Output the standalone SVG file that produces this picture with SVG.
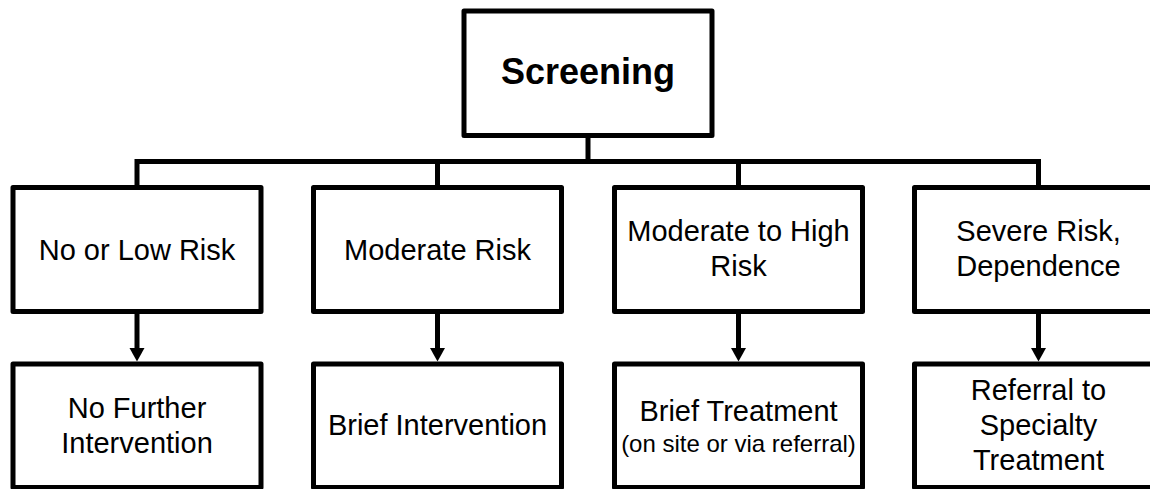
<svg xmlns="http://www.w3.org/2000/svg" width="1150" height="489" viewBox="0 0 1150 489">
<style>
.box{fill:#fff;stroke:#000;stroke-width:5;stroke-linejoin:round}
.con{fill:none;stroke:#000;stroke-width:5;stroke-linejoin:miter}
.t{font-family:"Liberation Sans",Arial,sans-serif;font-size:29px;text-anchor:middle;fill:#000}
.s{font-size:24px}
.b{font-weight:bold;font-size:36px}
</style>
<defs>
<marker id="ah" markerUnits="userSpaceOnUse" markerWidth="14" markerHeight="16" refX="3" refY="7.5" orient="auto" viewBox="0 0 14 15">
<path d="M0,0 L13.5,7.5 L0,15 z" fill="#000"/>
</marker>
</defs>
<rect width="1150" height="489" fill="#fff"/>
<g id="connectors">
<path class="con" d="M588,135.5 V161.5"/>
<path class="con" d="M137,187.5 V161.5 H1038.5 V187.5"/>
<path class="con" d="M437.5,161.5 V187.5"/>
<path class="con" d="M738.5,161.5 V187.5"/>
<path class="con" d="M137,311.5 V351" marker-end="url(#ah)"/>
<path class="con" d="M437.5,311.5 V351" marker-end="url(#ah)"/>
<path class="con" d="M738.5,311.5 V351" marker-end="url(#ah)"/>
<path class="con" d="M1038.5,311.5 V351" marker-end="url(#ah)"/>
</g>
<g id="screening">
<rect class="box" x="464" y="11" width="248" height="124.5"/>
<text class="t b" x="588" y="84">Screening</text>
</g>
<g id="no-low-risk">
<rect class="box" x="13" y="187.5" width="248" height="124"/>
<text class="t" x="137" y="259.5">No or Low Risk</text>
</g>
<g id="moderate-risk">
<rect class="box" x="313.5" y="187.5" width="248" height="124"/>
<text class="t" x="437.5" y="259.5">Moderate Risk</text>
</g>
<g id="moderate-high-risk">
<rect class="box" x="614.5" y="187.5" width="248" height="124"/>
<text class="t" x="738.5" y="241">Moderate to High</text>
<text class="t" x="738.5" y="276">Risk</text>
</g>
<g id="severe-risk">
<rect class="box" x="914.5" y="187.5" width="248" height="124"/>
<text class="t" x="1038.5" y="241">Severe Risk,</text>
<text class="t" x="1038.5" y="276">Dependence</text>
</g>
<g id="no-further">
<rect class="box" x="13" y="364" width="248" height="123.5"/>
<text class="t" x="137" y="417.5">No Further</text>
<text class="t" x="137" y="452.5">Intervention</text>
</g>
<g id="brief-intervention">
<rect class="box" x="313.5" y="364" width="248" height="123.5"/>
<text class="t" x="437.5" y="435">Brief Intervention</text>
</g>
<g id="brief-treatment">
<rect class="box" x="614.5" y="364" width="248" height="123.5"/>
<text class="t" x="738.5" y="420.5">Brief Treatment</text>
<text class="t s" x="738.5" y="451.5">(on site or via referral)</text>
</g>
<g id="referral">
<rect class="box" x="914.5" y="364" width="248" height="123.5"/>
<text class="t" x="1038.5" y="400">Referral to</text>
<text class="t" x="1038.5" y="435">Specialty</text>
<text class="t" x="1038.5" y="470">Treatment</text>
</g>
</svg>
